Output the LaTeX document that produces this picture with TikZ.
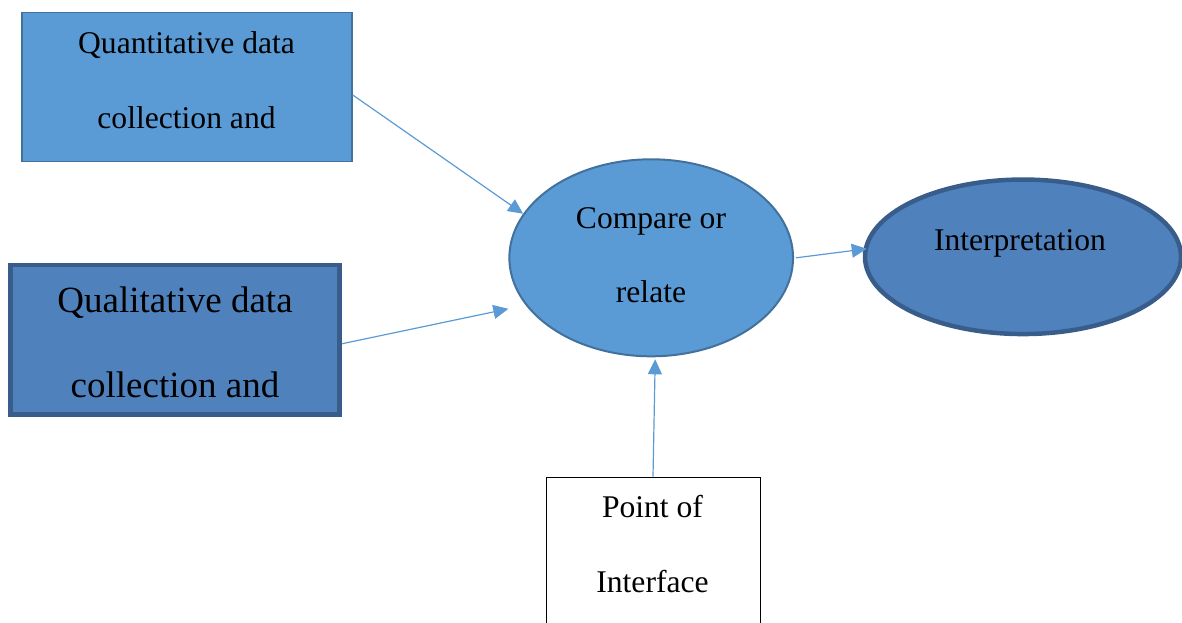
\documentclass[tikz,border=0pt]{standalone}
\usepackage{fontspec}
\setmainfont{Liberation Serif}
\usetikzlibrary{arrows.meta,shapes.geometric}

\definecolor{lightfill}{HTML}{5B9BD5}
\definecolor{lightedge}{HTML}{41719C}
\definecolor{darkfill}{HTML}{4F81BD}
\definecolor{darkedge}{HTML}{385D8A}

\begin{document}
\begin{tikzpicture}[x=1pt,y=-1pt,
  lightbox/.style={rectangle, fill=lightfill, draw=lightedge, line width=1.5pt, inner sep=0pt},
  darkbox/.style={rectangle, fill=darkfill, draw=darkedge, line width=4.5pt, inner sep=0pt},
  lightoval/.style={ellipse, fill=lightfill, draw=lightedge, line width=2pt, inner sep=0pt},
  darkoval/.style={ellipse, fill=darkfill, draw=darkedge, line width=4.5pt, inner sep=0pt},
  plainbox/.style={rectangle, fill=white, draw=black, line width=1pt, inner sep=0pt},
  txt/.style={inner sep=0pt, outer sep=0pt, align=center, text=black},
  normaltxt/.style={txt, font=\fontsize{31.6}{75}\selectfont},
  bigtxt/.style={txt, font=\fontsize{37}{85}\selectfont},
  arr/.style={draw=lightfill, line width=1.2pt, -{Triangle[length=15pt,width=14pt]}}
]
\useasboundingbox (0,0) rectangle (1182,623);
\clip (0,0) rectangle (1182,623);

% shapes
\node[lightbox, minimum width=330pt, minimum height=149pt] (quant) at (187,87) {};
\node[darkbox, minimum width=329.2pt, minimum height=149.5pt] (qual) at (175.1,339.75) {};
\node[lightoval, minimum width=283.7pt, minimum height=197pt] (cmp) at (651.2,257.8) {};
\node[darkoval, minimum width=316pt, minimum height=154.5pt] (interp) at (1023,256.8) {};
\node[plainbox, minimum width=214pt, minimum height=170pt] (poi) at (653,562) {};

% labels
\node[normaltxt] (quanttxt) at (186.5,79.7) {Quantitative data\\collection and};
\node[bigtxt] (qualtxt) at (175,342.8) {Qualitative data\\collection and};
\node[txt, font=\fontsize{31.6}{74}\selectfont] (cmptxt) at (651,255.3) {Compare or\\relate};
\node[normaltxt, anchor=base] (interptxt) at (1020,250) {Interpretation};
\node[normaltxt] (poitxt) at (652.5,543.7) {Point of\\Interface};

% connectors
\draw[arr] ([yshift=-8pt]quant.east) -- (cmp.161.7);
\draw[arr] ([yshift=-4pt]qual.east) -- ([yshift=-51pt]cmp.west);
\draw[arr] ([xshift=2pt]cmp.east) -- ([shift={(4pt,8pt)}]interp.west);
\draw[arr] (poi.north) -- ([shift={(4pt,-2pt)}]cmp.south);
\end{tikzpicture}
\end{document}
